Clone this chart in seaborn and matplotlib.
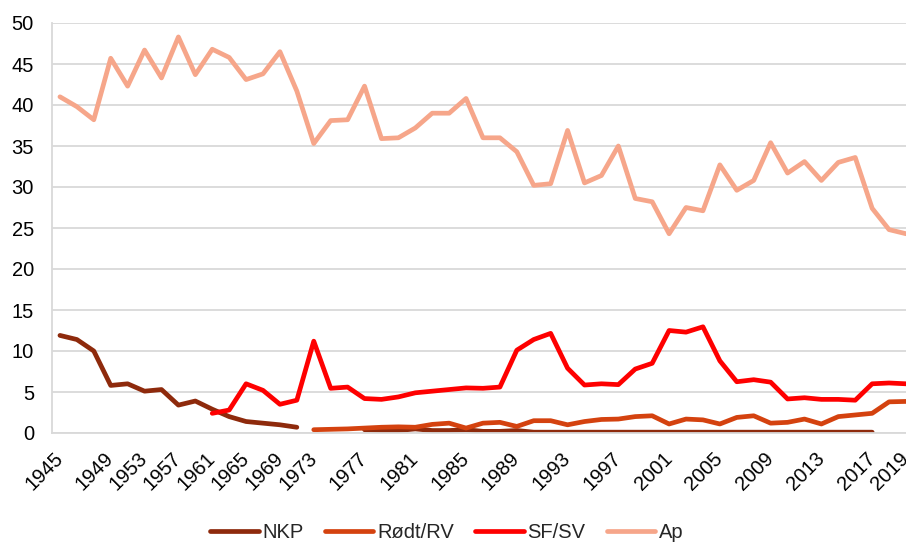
import numpy as np
import pandas as pd
import matplotlib
matplotlib.use("Agg")
import matplotlib.pyplot as plt
from matplotlib.lines import Line2D
import seaborn as sns

# ---- data -------------------------------------------------------------
categories = ['1945', '1945', '1947', '1949', '1951', '1953', '1955', '1957', '1959', '1961',
              '1963', '1965', '1967', '1969', '1971', '1973', '1975', '1975', '1977', '1979',
              '1979', '1981', '1983', '1983', '1985', '1987', '1987', '1989', '1991', '1991',
              '1993', '1995', '1995', '1997', '1999', '1999', '2001', '2003', '2003', '2005',
              '2007', '2007', '2009', '2011', '2011', '2013', '2015', '2015', '2017', '2019', '2019']

tick_labels = ['1945', '', '', '1949', '', '1953', '', '1957', '', '1961',
               '', '1965', '', '1969', '', '1973', '', '', '1977', '',
               '', '1981', '', '', '1985', '', '', '1989', '', '',
               '1993', '', '', '1997', '', '', '2001', '', '', '2005',
               '', '', '2009', '', '', '2013', '', '', '2017', '', '2019']

nan = np.nan
nkp = [11.9, 11.4, 10.0, 5.8, 6.0, 5.1, 5.3, 3.4, 3.9, 2.9,
       2.0, 1.4, 1.2, 1.0, 0.7, nan, nan, nan, 0.4, 0.3,
       0.3, 0.5, 0.3, 0.3, 0.4, 0.2, 0.2, 0.3, 0.1, 0.1,
       0.1, 0.1, 0.1, 0.1, 0.1, 0.1, 0.1, 0.1, 0.1, 0.1,
       0.1, 0.1, 0.1, 0.1, 0.1, 0.1, 0.1, 0.1, 0.1, nan, nan]

rodt = [nan, nan, nan, nan, nan, nan, nan, nan, nan, nan,
        nan, nan, nan, nan, nan, 0.4, 0.45, 0.5, 0.6, 0.7,
        0.75, 0.7, 1.05, 1.2, 0.6, 1.2, 1.3, 0.8, 1.5, 1.5,
        1.0, 1.4, 1.65, 1.7, 2.0, 2.1, 1.1, 1.7, 1.6, 1.1,
        1.9, 2.1, 1.2, 1.3, 1.7, 1.1, 2.0, 2.2, 2.4, 3.8, 3.85]

sfsv = [nan, nan, nan, nan, nan, nan, nan, nan, nan, 2.4,
        2.8, 6.0, 5.2, 3.5, 4.0, 11.2, 5.45, 5.6, 4.2, 4.1,
        4.4, 4.9, 5.1, 5.3, 5.5, 5.45, 5.6, 10.1, 11.4, 12.15,
        7.9, 5.85, 6.0, 5.9, 7.8, 8.5, 12.5, 12.3, 12.95, 8.8,
        6.25, 6.5, 6.2, 4.15, 4.3, 4.1, 4.1, 4.0, 6.0, 6.1, 6.0]

ap = [41.0, 39.8, 38.2, 45.7, 42.3, 46.7, 43.3, 48.3, 43.7, 46.8,
      45.8, 43.1, 43.8, 46.5, 41.7, 35.3, 38.1, 38.2, 42.3, 35.9,
      36.0, 37.2, 39.0, 39.0, 40.8, 36.0, 36.0, 34.3, 30.2, 30.4,
      36.9, 30.5, 31.4, 35.0, 28.6, 28.2, 24.3, 27.5, 27.1, 32.7,
      29.6, 30.8, 35.4, 31.7, 33.1, 30.8, 33.0, 33.6, 27.4, 24.8, 24.3]

series_names = ['NKP', 'Rødt/RV', 'SF/SV', 'Ap']
series_values = [nkp, rodt, sfsv, ap]
colors = ['#8e2a0c', '#d4420f', '#fe0000', '#f6a68a']

# ---- long table ---------------------------------------------------------
rows = []
for name, vals in zip(series_names, series_values):
    seg = 0
    prev_nan = True
    for i, v in enumerate(vals):
        if np.isnan(v):
            prev_nan = True
            continue
        if prev_nan:
            seg += 1
            prev_nan = False
        rows.append({'x': i, 'value': v, 'series': name, 'seg': seg})
df = pd.DataFrame(rows)

# ---- figure ------------------------------------------------------------
sns.set_theme(style='white')
plt.rcParams['font.family'] = ['Liberation Sans', 'DejaVu Sans']

W, H = 906, 545
fig = plt.figure(figsize=(W / 100, H / 100), dpi=100)
ax = fig.add_axes([52 / W, 1 - 433 / H, (906 - 52) / W, (433 - 23) / H])

lw = 3.4
for name, col in zip(series_names, colors):
    sub = df[df['series'] == name]
    sns.lineplot(data=sub, x='x', y='value', units='seg', estimator=None,
                 color=col, lw=lw, ax=ax, legend=False,
                 solid_capstyle='round', solid_joinstyle='round')

ax.set_xlim(-0.47, 50.0)
ax.set_ylim(0, 50)
ax.set_yticks(np.arange(0, 51, 5))
ax.set_xticks(range(len(categories)))
ax.set_xticklabels(tick_labels, rotation=45, ha='right', va='center',
                   rotation_mode='anchor')
ax.set_xlabel('')
ax.set_ylabel('')

ax.yaxis.grid(True, color='#d9d9d9', lw=1.3)
ax.xaxis.grid(False)
ax.set_axisbelow(True)
for s in ['top', 'right']:
    ax.spines[s].set_visible(False)
for s in ['left', 'bottom']:
    ax.spines[s].set_color('#d9d9d9')
    ax.spines[s].set_linewidth(1.3)

ax.tick_params(axis='y', length=0, labelsize=14.5, pad=13, colors='black')
ax.tick_params(axis='x', length=0, labelsize=14.5, pad=16, colors='black')

handles = [Line2D([0], [0], color=c, lw=lw, solid_capstyle='round') for c in colors]
fig.legend(handles, series_names, loc='center', bbox_to_anchor=(447 / W, 1 - 533 / H),
           ncol=4, frameon=False, fontsize=14.5, handlelength=2.4,
           handletextpad=0.2, columnspacing=1.05)

fig.savefig('out.png', dpi=100)
